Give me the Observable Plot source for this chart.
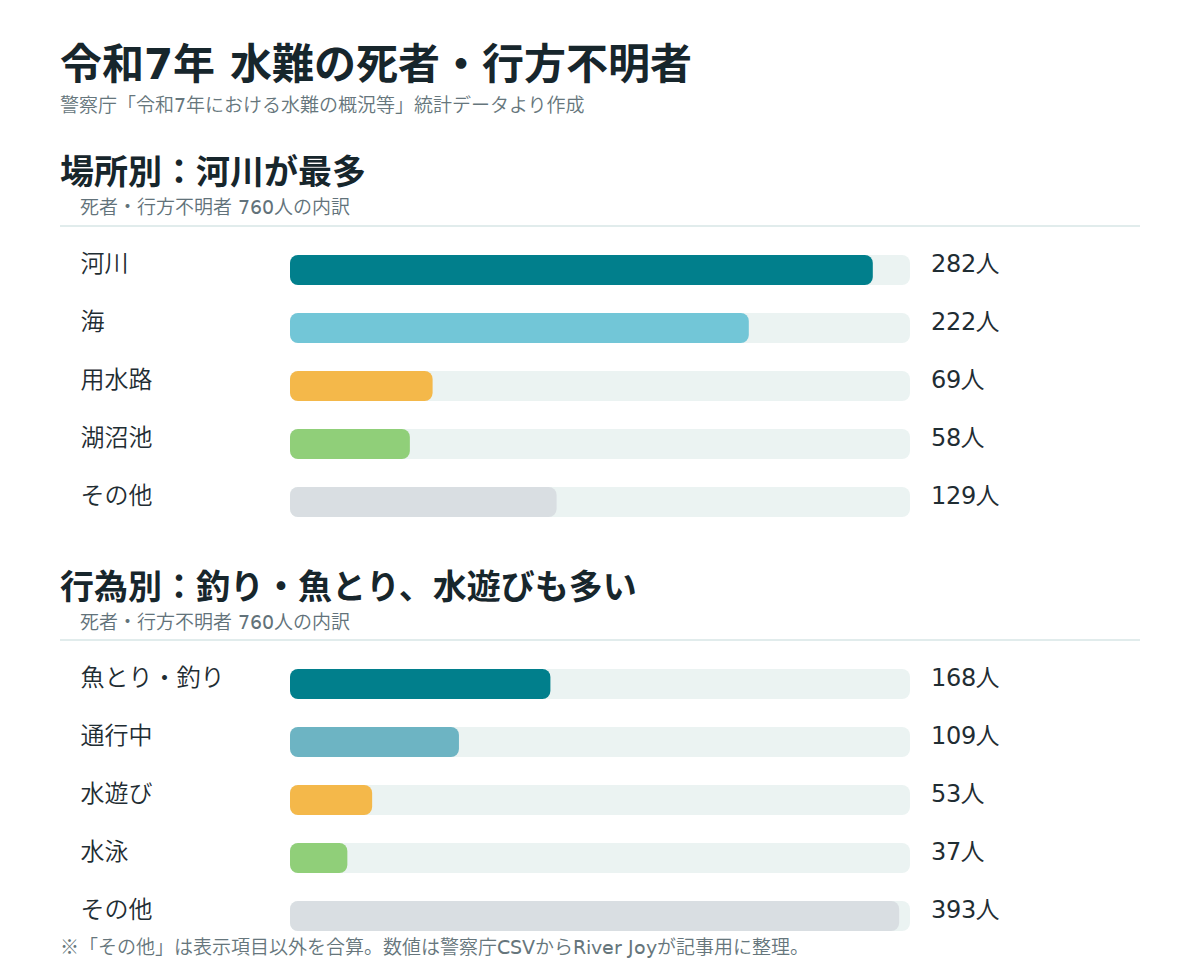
<!DOCTYPE html>
<html><head><meta charset="utf-8">
<script src="https://cdn.jsdelivr.net/npm/d3@7"></script>
<script src="https://cdn.jsdelivr.net/npm/@observablehq/plot@0.6"></script>
<style>
@font-face{font-family:"LatinUI";src:local("DejaVu Sans"),local("DejaVuSans");font-weight:100 599;unicode-range:U+0020-007E;}
@font-face{font-family:"LatinUI";src:local("DejaVu Sans Bold"),local("DejaVuSans-Bold");font-weight:600 900;unicode-range:U+0020-007E;}
html,body{margin:0;padding:0;background:#fff;}
body{width:1200px;height:980px;position:relative;font-family:"LatinUI","Noto Sans CJK JP",sans-serif;color:#1b2a30;}
.abs{position:absolute;white-space:nowrap;}
#title{left:60px;top:44px;font-size:42px;line-height:42px;font-weight:700;color:#17262c;}
#sub{left:60px;top:96px;font-size:19px;line-height:19px;color:#66767c;font-weight:350;}
.h2{left:60px;font-size:34px;line-height:34px;font-weight:700;color:#17262c;}
.cap{left:80px;font-size:19px;line-height:19px;color:#62727a;font-weight:350;}
.rule{left:60px;width:1080px;height:2px;background:#e1ecec;}
#foot{left:60px;top:938px;font-size:19px;line-height:19px;color:#66767c;font-weight:350;}
.plot{left:60px;}
</style></head>
<body>
<div class="abs" id="title">令和7年 水難の死者・行方不明者</div>
<div class="abs" id="sub">警察庁「令和7年における水難の概況等」統計データより作成</div>
<div class="abs h2" style="top:155px">場所別：河川が最多</div>
<div class="abs cap" style="top:198px">死者・行方不明者 760人の内訳</div>
<div class="abs rule" style="top:225px"></div>
<div class="abs plot" id="p1" style="top:226px"></div>
<div class="abs h2" style="top:570px">行為別：釣り・魚とり、水遊びも多い</div>
<div class="abs cap" style="top:613px">死者・行方不明者 760人の内訳</div>
<div class="abs rule" style="top:639px"></div>
<div class="abs plot" id="p2" style="top:640px"></div>
<div class="abs" id="foot">※「その他」は表示項目以外を合算。数値は警察庁CSVからRiver Joyが記事用に整理。</div>
<script>
// Data
const placeCategories = ["河川", "海", "用水路", "湖沼池", "その他"];
const placeValues = [282, 222, 69, 58, 129];
const placeMax = 300;
const actCategories = ["魚とり・釣り", "通行中", "水遊び", "水泳", "その他"];
const actValues = [168, 109, 53, 37, 393];
const actMax = 400;

// Styles
const placePalette = ["#017f8c", "#72c6d7", "#f4b84a", "#90cf79", "#d9dee2"];
const actPalette = ["#017f8c", "#6db4c3", "#f4b84a", "#90cf79", "#d9dee2"];

function section(cats, vals, max, palette) {
  const rows = cats.map((c, i) => ({name: c, value: vals[i], max}));
  return Plot.plot({
    width: 1080,
    height: 320,
    marginLeft: 230,
    marginRight: 230,
    marginTop: 0,
    marginBottom: 0,
    style: {fontFamily: '"LatinUI","Noto Sans CJK JP",sans-serif', background: "transparent"},
    x: {domain: [0, max], axis: null},
    y: {domain: cats, range: [15, 305], paddingInner: 0.483, paddingOuter: 0.2415, axis: null},
    color: {domain: cats, range: palette},
    marks: [
      Plot.barX(rows, {x1: 0, x2: "max", y: "name", fill: "#ebf3f2", rx: 8}),
      Plot.barX(rows, {x1: 0, x2: "value", y: "name", fill: "name", rx: 8}),
      Plot.text(rows, {y: "name", text: "name", frameAnchor: "left", textAnchor: "start", dx: -210, dy: -6, fontSize: 24, fontWeight: 350, fill: "#1f2d33"}),
      Plot.text(rows, {y: "name", text: d => d.value + "人", frameAnchor: "right", textAnchor: "start", dx: 20, dy: -6, fontSize: 24, fontWeight: 350, fill: "#1f2d33"})
    ]
  });
}
document.getElementById("p1").appendChild(section(placeCategories, placeValues, placeMax, placePalette));
document.getElementById("p2").appendChild(section(actCategories, actValues, actMax, actPalette));
</script>
</body></html>
